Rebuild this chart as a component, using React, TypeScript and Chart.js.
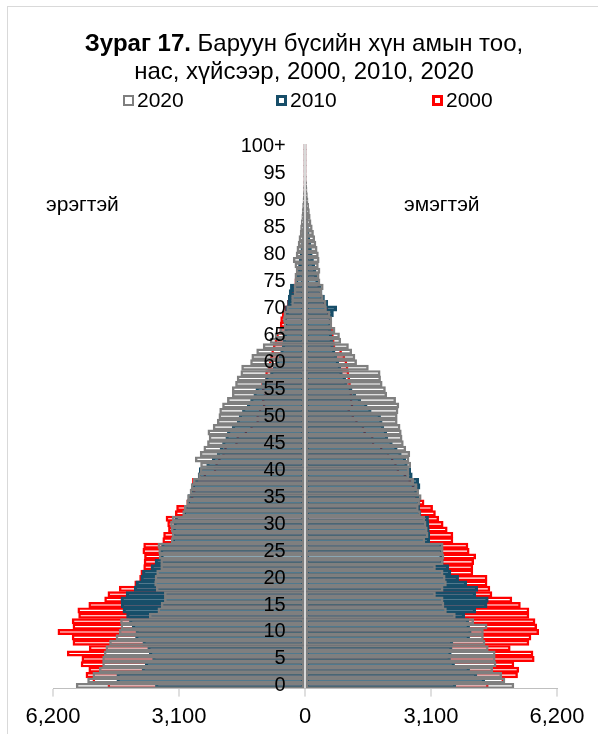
import React, { useEffect, useRef } from "react";
import { Chart, registerables } from "chart.js";

Chart.register(...registerables);

const FONT = '"Liberation Sans", Arial, Helvetica, sans-serif';

// Age categories (bottom to top)
const ageLabels = [
  "0","1","2","3","4","5","6","7","8","9",
  "10","11","12","13","14","15","16","17","18","19",
  "20","21","22","23","24","25","26","27","28","29",
  "30","31","32","33","34","35","36","37","38","39",
  "40","41","42","43","44","45","46","47","48","49",
  "50","51","52","53","54","55","56","57","58","59",
  "60","61","62","63","64","65","66","67","68","69",
  "70","71","72","73","74","75","76","77","78","79",
  "80","81","82","83","84","85","86","87","88","89",
  "90","91","92","93","94","95","96","97","98","99",
  "100+",
];

const legendYears = ["2020", "2010", "2000"];
const seriesColors = ["#7f7f7f", "#174e69", "#ff0000"];
const seriesBorder = [1.8, 2.5, 1.8];

const xTicks = [-6200, -3100, 0, 3100, 6200];

// 2020
const male2020 = [
  5630,5350,5220,5060,4980,4980,4940,4900,4810,4650,
  4570,4530,4540,3830,3620,3540,3460,3460,3660,3700,
  3690,3650,3550,3550,3590,3600,3620,3290,3270,3290,
  3310,3270,3010,2970,2910,2890,2830,2800,2750,2620,
  2580,2570,2700,2580,2490,2400,2360,2390,2260,2160,
  2120,2100,2030,1910,1790,1790,1710,1670,1580,1560,
  1340,1310,1190,1030,860,740,620,520,530,520,
  450,330,330,270,270,250,250,220,250,290,
  220,200,170,150,120,110,90,80,70,60,
  50,40,35,30,25,20,15,12,10,8,
  10,
];
const female2020 = [
  5140,4920,4840,4620,4700,4680,4680,4510,4430,4390,
  4390,4480,4150,3700,3480,3420,3400,3210,3400,3480,
  3450,3400,3210,3400,3420,3400,3400,2950,3030,3010,
  2980,2950,2840,2790,2820,2860,2800,2760,2680,2560,
  2560,2600,2560,2580,2480,2420,2390,2370,2340,2270,
  2270,2290,2310,2230,2010,1980,1900,1860,1850,1560,
  1270,1230,1150,1070,880,850,740,660,660,620,
  530,520,450,410,450,370,350,370,330,350,
  330,300,270,240,210,180,150,130,110,90,
  75,60,50,40,30,25,20,15,12,10,
  12,
];

// 2010
const male2010 = [
  3680,4630,4630,4010,3930,3750,3830,3870,3990,4170,
  4160,4250,4320,4390,4480,4520,4530,4400,4200,4160,
  4040,4000,3790,3690,3550,3560,3530,3270,3260,3250,
  3230,3200,3000,2950,2900,2880,2820,2780,2700,2630,
  2600,2420,2280,2160,2090,2030,1950,1910,1790,1670,
  1620,1540,1420,1340,1260,1210,1050,970,850,780,
  700,640,600,560,540,520,500,510,520,470,
  480,430,410,390,360,240,200,180,160,140,
  120,100,85,70,60,50,40,35,30,25,
  20,15,12,10,8,6,5,4,3,2,
  3,
];
const female2010 = [
  3710,4420,4230,4050,3680,3580,3600,3620,3640,4050,
  4090,4050,4030,3930,4200,4480,4510,4200,4250,3980,
  3780,3590,3540,3400,3380,3390,3380,3070,3070,3060,
  3050,3040,2850,2820,2830,2800,2760,2830,2800,2640,
  2600,2520,2480,2370,2270,2150,2040,2010,1940,1900,
  1860,1630,1530,1370,1250,1160,1040,1000,920,880,
  830,780,740,700,680,660,640,650,660,700,
  780,560,480,420,400,330,300,270,240,210,
  180,160,140,120,100,85,70,60,50,40,
  30,25,20,15,12,10,8,6,4,3,
  5,
];

// 2000
const male2000 = [
  4850,5220,5390,5320,5510,5490,5850,5310,5710,5730,
  6080,5710,5730,5570,5590,5320,4930,4850,4570,4190,
  4070,4040,3970,3960,3950,3990,3970,3500,3480,3360,
  3380,3420,3190,3160,2910,2800,2750,2780,2770,2490,
  2240,2200,2130,2030,1980,1710,1680,1480,1340,1190,
  1190,1130,1030,1050,1010,1050,1070,970,970,900,
  880,850,820,780,740,700,620,610,600,560,
  500,430,380,330,290,250,210,180,150,130,
  110,90,75,60,50,40,32,26,20,16,
  12,10,8,6,5,4,3,2,2,1,
  5,
];
const female2000 = [
  4510,4890,5230,5260,5140,5640,5610,5050,5510,5560,
  5750,5700,5660,5510,5510,5300,5090,4600,4550,4480,
  4480,4130,4130,4150,4200,4040,4010,3640,3640,3500,
  3400,3290,3210,3140,2930,2760,2760,2680,2600,2480,
  2310,2250,2170,2070,1900,1700,1680,1490,1450,1290,
  1200,1100,1180,1160,1150,1130,1120,1100,1080,1060,
  1030,980,900,740,720,700,680,660,640,600,
  560,500,440,400,360,320,280,250,220,190,
  160,140,120,100,85,70,55,45,35,28,
  22,18,14,10,8,6,5,4,3,2,
  8,
];

const titleBold = "Зураг 17.";
const titleRest = " Баруун бүсийн хүн амын тоо,";
const titleLine2 = "нас, хүйсээр, 2000, 2010, 2020";
const maleLabel = "эрэгтэй";
const femaleLabel = "эмэгтэй";

const fmt = (v: number) =>
  String(Math.abs(v)).replace(/\B(?=(\d{3})+(?!\d))/g, ",");

const decorPlugin = {
  id: "decor",
  beforeDraw(chart: any) {
    const ctx = chart.ctx as CanvasRenderingContext2D;
    ctx.save();
    ctx.fillStyle = "#ffffff";
    ctx.fillRect(0, 0, chart.width, chart.height);
    ctx.strokeStyle = "#d9d9d9";
    ctx.lineWidth = 1;
    ctx.strokeRect(7.5, 6.5, chart.width + 20, chart.height + 20);
    ctx.restore();
  },
  afterDraw(chart: any) {
    const ctx = chart.ctx as CanvasRenderingContext2D;
    ctx.save();
    ctx.fillStyle = "#000000";
    ctx.textBaseline = "middle";
    ctx.textAlign = "left";
    // title line 1 (bold + regular)
    const cx = 304;
    ctx.font = `bold 24px ${FONT}`;
    const w1 = ctx.measureText(titleBold).width;
    ctx.font = `24px ${FONT}`;
    const w2 = ctx.measureText(titleRest).width;
    const x0 = cx - (w1 + w2) / 2;
    ctx.font = `bold 24px ${FONT}`;
    ctx.fillText(titleBold, x0, 44);
    ctx.font = `24px ${FONT}`;
    ctx.fillText(titleRest, x0 + w1, 44);
    ctx.textAlign = "center";
    ctx.fillText(titleLine2, cx, 72);

    // legend
    const lx = [123, 276, 432];
    ctx.textAlign = "left";
    ctx.font = `21px ${FONT}`;
    legendYears.forEach((yr, i) => {
      const bw = i === 0 ? 2 : 3;
      ctx.strokeStyle = seriesColors[i];
      ctx.lineWidth = bw;
      ctx.strokeRect(lx[i] + bw / 2, 95 + bw / 2, 11 - bw, 11 - bw);
      ctx.fillStyle = "#000";
      ctx.fillText(yr, lx[i] + 14, 101);
    });

    // side labels
    ctx.font = `21px ${FONT}`;
    ctx.fillText(maleLabel, 46, 205);
    ctx.fillText(femaleLabel, 404, 205);
    ctx.restore();
  },
};

function makeDs(label: string, data: number[], i: number, sign: number) {
  return {
    label,
    data: data.map((v) => v * sign),
    backgroundColor: "rgba(255,255,255,0)",
    borderColor: seriesColors[i],
    borderWidth: seriesBorder[i],
    borderSkipped: false,
  };
}

export default function App() {
  const ref = useRef<HTMLCanvasElement | null>(null);
  useEffect(() => {
    if (!ref.current) return;
    const chart = new Chart(ref.current, {
      type: "bar",
      data: {
        labels: ageLabels,
        datasets: [
          makeDs("2020", male2020, 0, -1),
          makeDs("2020", female2020, 0, 1),
          makeDs("2010", male2010, 1, -1),
          makeDs("2010", female2010, 1, 1),
          makeDs("2000", male2000, 2, -1),
          makeDs("2000", female2000, 2, 1),
        ] as any,
      },
      options: {
        indexAxis: "y",
        animation: false,
        responsive: true,
        maintainAspectRatio: false,
        devicePixelRatio: 1,
        layout: { padding: { left: 53, right: 41, top: 144, bottom: -3 } },
        datasets: {
          bar: { grouped: false, barPercentage: 1, categoryPercentage: 1 },
        } as any,
        plugins: {
          legend: { display: false },
          title: { display: false },
          tooltip: { enabled: false },
        },
        scales: {
          x: {
            type: "linear",
            min: -6200,
            max: 6200,
            afterBuildTicks: (s: any) => {
              s.ticks = xTicks.map((v) => ({ value: v }));
            },
            ticks: {
              callback: (v: any) => fmt(Number(v)),
              font: { family: FONT, size: 22 },
              color: "#000",
              padding: 7,
              maxRotation: 0,
              z: 1,
            },
            grid: {
              drawOnChartArea: true,
              drawTicks: true,
              tickLength: 8,
              color: (c: any) =>
                c.tick && c.tick.value === 0 ? "#d9d9d9" : "rgba(0,0,0,0)",
              lineWidth: 2,
              tickColor: "#bfbfbf",
              tickWidth: 1,
              z: 1,
            },
            border: { display: true, color: "#bfbfbf", width: 1, z: 1 },
          },
          y: {
            type: "category",
            reverse: true,
            position: { x: -475 } as any,
            ticks: {
              autoSkip: false,
              callback: (_v: any, i: number) => (i % 5 === 0 ? ageLabels[i] : ""),
              font: { family: FONT, size: 20 },
              color: "#000",
              z: 2,
            },
            grid: { display: false },
            border: { display: false },
          },
        },
      } as any,
      plugins: [decorPlugin],
    });
    return () => chart.destroy();
  }, []);
  return (
    <div style={{ position: "absolute", left: 0, top: 0, width: 598, height: 734 }}>
      <canvas ref={ref} />
    </div>
  );
}
